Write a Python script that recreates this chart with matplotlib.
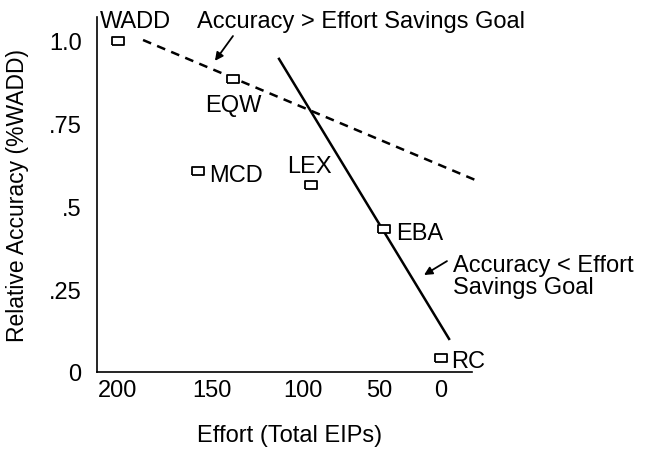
import numpy as np
import matplotlib
matplotlib.use("Agg")
import matplotlib.pyplot as plt

plt.rcParams['font.family'] = ['Liberation Sans', 'DejaVu Sans']
plt.rcParams['font.size'] = 17

# strategies: effort (total EIPs) and relative accuracy (%WADD)
strategies = ['WADD', 'EQW', 'MCD', 'LEX', 'EBA', 'RC']
effort = [200, 138.5, 157.4, 94.7, 46, 0]
accuracy = [1.0, 0.885, 0.607, 0.565, 0.432, 0.042]

# goal lines (end points)
goal_high_x = [186.7, -31.5]
goal_high_y = [1.003, 0.574]
goal_low_x = [113.2, -6.5]
goal_low_y = [0.946, 0.10]

xticks = [200, 150, 100, 50, 0]
yticks = [0, 0.25, 0.5, 0.75, 1.0]
ytick_labels = ['0', '.25', '.5', '.75', '1.0']

# the original effort axis is not evenly spaced, so stretch it piecewise
axis_eff = [0, 50, 100, 150, 200]
axis_pos = [0, 62, 138, 229, 323]


def stretch(v, xs, ys):
    v = np.asarray(v, dtype=float)
    out = np.interp(v, xs, ys)
    lo_slope = (ys[1] - ys[0]) / (xs[1] - xs[0])
    hi_slope = (ys[-1] - ys[-2]) / (xs[-1] - xs[-2])
    out = np.where(v < xs[0], ys[0] + (v - xs[0]) * lo_slope, out)
    out = np.where(v > xs[-1], ys[-1] + (v - xs[-1]) * hi_slope, out)
    return out


def forward(v):
    return stretch(v, axis_eff, axis_pos)


def inverse(v):
    return stretch(v, axis_pos, axis_eff)


fig = plt.figure(figsize=(6.46, 4.52), dpi=100)
ax = fig.add_axes([97 / 646, 1 - 373 / 452, 375 / 646, 355 / 452])
ax.set_xscale('function', functions=(forward, inverse))

# rectangle marker, wider than tall
box = [(-1.5, -1), (1.5, -1), (1.5, 1), (-1.5, 1), (-1.5, -1)]

ax.plot(goal_high_x, goal_high_y, color='black', lw=1.8,
        linestyle=(0, (3.5, 2.6)), clip_on=False, zorder=2)
ax.plot(goal_low_x, goal_low_y, color='black', lw=1.8, clip_on=False, zorder=2)
ax.plot(effort, accuracy, linestyle='none', marker=box, markersize=8.5,
        markerfacecolor='white', markeredgecolor='black', markeredgewidth=1.3,
        clip_on=False, zorder=3)

# label offsets in pixels from each box (left/center, baseline)
label_offsets = {
    'WADD': (-18, 14, 'left'),
    'EQW': (0, -32, 'center'),
    'MCD': (11, -10, 'left'),
    'LEX': (-2, 13, 'center'),
    'EBA': (12, -10, 'left'),
    'RC': (10, -9, 'left'),
}
for name, x, y in zip(strategies, effort, accuracy):
    dx, dy, ha = label_offsets[name]
    ax.annotate(name, (x, y), xytext=(dx, dy), textcoords='offset pixels',
                ha=ha, va='baseline', annotation_clip=False)

ax.text(158, 1.042, 'Accuracy > Effort Savings Goal', ha='left', va='baseline',
        clip_on=False)
ax.annotate('', xy=(148.4, 0.94), xytext=(138.5, 1.015),
            arrowprops=dict(arrowstyle='-|>', color='black', lw=1.3,
                            mutation_scale=12, shrinkA=0, shrinkB=0),
            annotation_clip=False)

ax.text(-9.7, 0.305, 'Accuracy < Effort', ha='left', va='baseline', clip_on=False)
ax.text(-9.7, 0.239, 'Savings Goal', ha='left', va='baseline', clip_on=False)
ax.annotate('', xy=(13.7, 0.293), xytext=(-4.8, 0.335),
            arrowprops=dict(arrowstyle='-|>', color='black', lw=1.3,
                            mutation_scale=12, shrinkA=0, shrinkB=0),
            annotation_clip=False)

ax.set_xlim(211.2, -25)
ax.set_ylim(0, 1.0725)
ax.set_xticks(xticks)
ax.set_xticklabels([str(t) for t in xticks])
ax.set_yticks(yticks)
ax.set_yticklabels(ytick_labels)
ax.minorticks_off()
ax.tick_params(axis='both', length=0)
ax.tick_params(axis='x', pad=5)
ax.tick_params(axis='y', pad=11)

for side in ['top', 'right']:
    ax.spines[side].set_visible(False)
for side in ['left', 'bottom']:
    ax.spines[side].set_linewidth(1.2)

fig.text(18 / 646, 1 - 196 / 452, 'Relative Accuracy (%WADD)', rotation=90,
         ha='center', va='center', fontsize=16.5)
fig.text(290 / 646, 1 - 436 / 452, 'Effort (Total EIPs)', ha='center', va='center')

fig.savefig('out.png', dpi=100)
